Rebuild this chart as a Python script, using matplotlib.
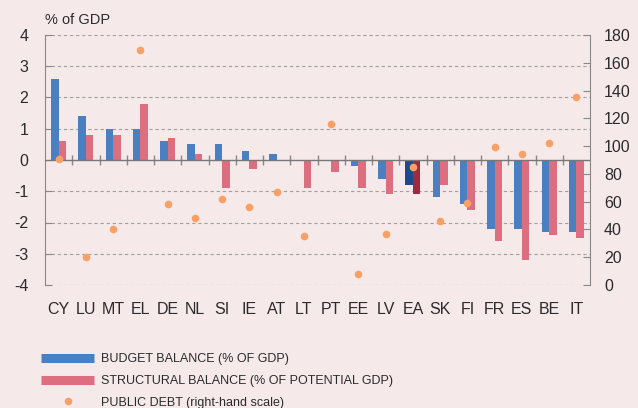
import matplotlib
matplotlib.use('Agg')
import matplotlib.pyplot as plt
import matplotlib.transforms as mtransforms
from matplotlib.lines import Line2D
import numpy as np

countries = ['CY', 'LU', 'MT', 'EL', 'DE', 'NL', 'SI', 'IE', 'AT', 'LT',
             'PT', 'EE', 'LV', 'EA', 'SK', 'FI', 'FR', 'ES', 'BE', 'IT']
budget_balance = [2.6, 1.4, 1.0, 1.0, 0.6, 0.5, 0.5, 0.3, 0.2, 0.0,
                  0.0, -0.2, -0.6, -0.8, -1.2, -1.4, -2.2, -2.2, -2.3, -2.3]
structural_balance = [0.6, 0.8, 0.8, 1.8, 0.7, 0.2, -0.9, -0.3, 0.0, -0.9,
                      -0.4, -0.9, -1.1, -1.1, -0.8, -1.6, -2.6, -3.2, -2.4, -2.5]
public_debt = [91, 20, 40, 169, 58, 48, 62, 56, 67, 35,
               116, 8, 37, 85, 46, 59, 99, 94, 102, 135]
left_ticks = [-4, -3, -2, -1, 0, 1, 2, 3, 4]
right_ticks = [0, 20, 40, 60, 80, 100, 120, 140, 160, 180]

bg = '#f6e9ea'
blue = '#4a7fc1'
red = '#dc6e80'
blue_ea = '#1d4a8a'
red_ea = '#a02a40'
orange = '#f9a064'
grey = '#888888'
text_col = '#2b2b2b'

plt.rcParams['font.family'] = ['Liberation Sans', 'DejaVu Sans']
plt.rcParams['axes.unicode_minus'] = False

fig = plt.figure(figsize=(6.38, 4.08), dpi=100, facecolor=bg)
ax = fig.add_axes([45 / 638, 123 / 408, 545 / 638, 250 / 408])
ax.set_facecolor(bg)

x = np.arange(len(countries))
w = 0.275
ea = countries.index('EA')
b_cols = [blue_ea if i == ea else blue for i in x]
s_cols = [red_ea if i == ea else red for i in x]
ax.bar(x - w / 2, budget_balance, w, color=b_cols, zorder=3)
ax.bar(x + w / 2, structural_balance, w, color=s_cols, zorder=3)

ax.set_xlim(-0.5, len(countries) - 0.5)
ax.set_ylim(-4, 4)
ax.set_yticks(left_ticks)
for t in left_ticks:
    if t != 0:
        ax.axhline(t, color='#a0a0a0', lw=0.8, ls=(0, (3, 2.5)), zorder=1)
ax.axhline(0, color='#777777', lw=1.0, zorder=4)

# tick marks between countries on the zero line
ax.spines['bottom'].set_position(('data', 0))
ax.spines['bottom'].set_visible(False)
ax.set_xticks(x[:-1] + 0.5)
ax.set_xticklabels([])
ax.tick_params(axis='x', direction='inout', length=7.5, width=1, color=grey)

trans = mtransforms.blended_transform_factory(ax.transData, ax.transAxes)
for i, c in enumerate(countries):
    ax.text(i, -0.068, c, transform=trans, ha='center', va='top',
            fontsize=11.5, color=text_col)

ax.spines['top'].set_visible(False)
ax.spines['right'].set_visible(False)
ax.spines['left'].set_color(grey)
ax.tick_params(axis='y', direction='in', length=5, color=grey,
               labelsize=11.5, labelcolor=text_col, pad=12)

ax2 = ax.twinx()
ax2.scatter(x, public_debt, s=30, color=orange, zorder=5, linewidths=0)
ax2.set_ylim(0, 180)
ax2.set_yticks(right_ticks)
ax2.tick_params(axis='y', direction='in', length=5, color=grey,
                labelsize=11.5, labelcolor=text_col, pad=10)
for s in ['top', 'bottom', 'left']:
    ax2.spines[s].set_visible(False)
ax2.spines['right'].set_color(grey)
ax2.set_xlim(-0.5, len(countries) - 0.5)

fig.text(45 / 638, 1 - 20 / 408, '% of GDP', ha='left', va='center',
         fontsize=10.5, color=text_col)

handles = [
    Line2D([], [], color=blue, lw=6.5, solid_capstyle='butt'),
    Line2D([], [], color=red, lw=6.5, solid_capstyle='butt'),
    Line2D([], [], color=orange, lw=0, marker='o', markersize=5.5,
           markeredgewidth=0),
]
labels = ['BUDGET BALANCE (% OF GDP)',
          'STRUCTURAL BALANCE (% OF POTENTIAL GDP)',
          'PUBLIC DEBT (right-hand scale)']
leg = fig.legend(handles, labels, loc='upper left',
                 bbox_to_anchor=(30 / 638, 1 - 342 / 408), frameon=False,
                 handlelength=4.2, handletextpad=0.6, labelspacing=0.78,
                 prop={'size': 9})
for t in leg.get_texts():
    t.set_color(text_col)

fig.savefig('out.png', dpi=100, facecolor=bg)
